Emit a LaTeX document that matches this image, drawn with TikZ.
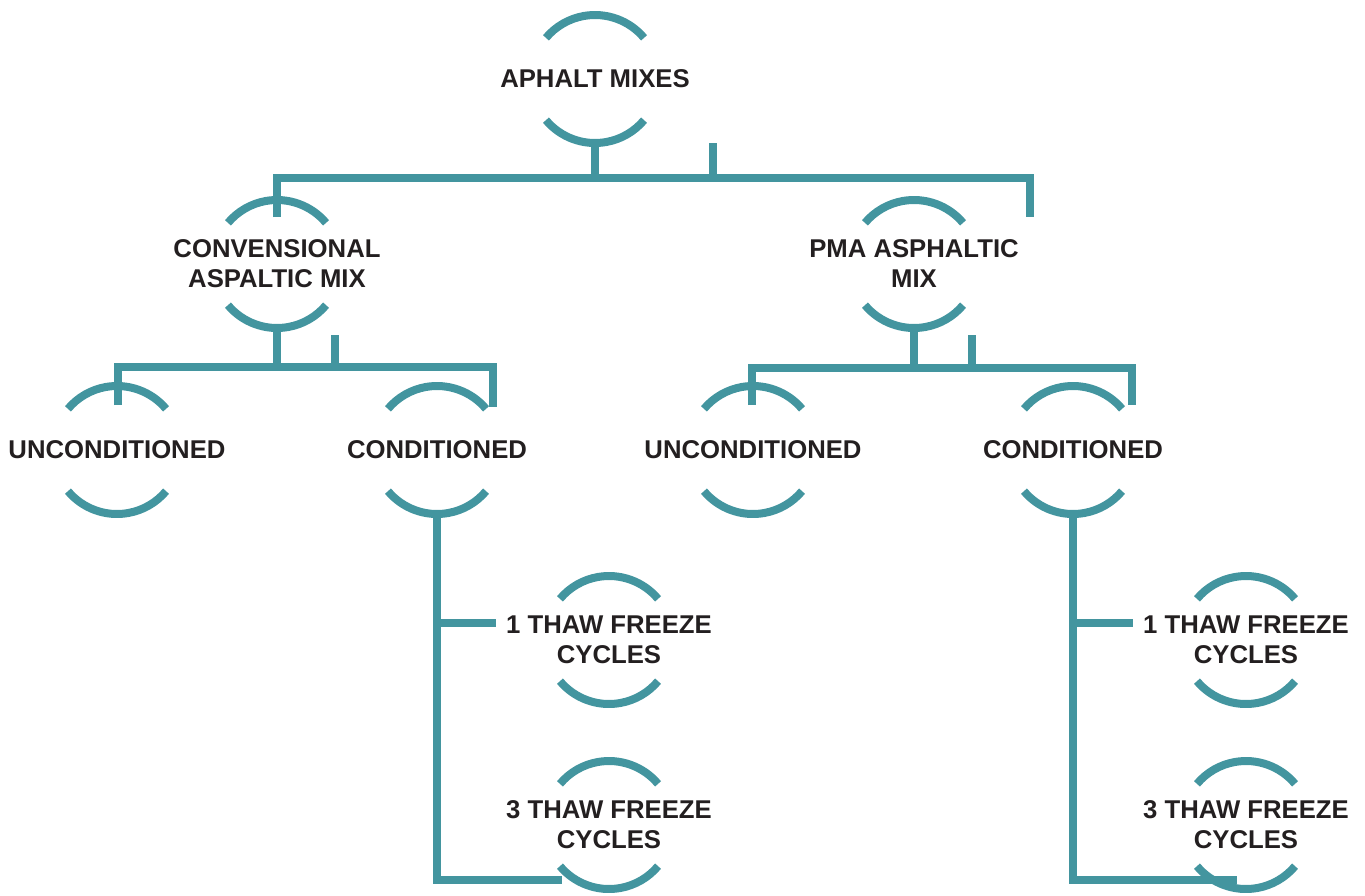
\documentclass[tikz,border=0pt]{standalone}
\usepackage{fontspec}
\setmainfont{Liberation Sans}
\definecolor{ringteal}{RGB}{67,149,159}
\definecolor{txtdark}{RGB}{35,31,32}
\begin{document}
\begin{tikzpicture}[x=1pt,y=-1pt,
  ring/.style={circle, minimum size=136pt, inner sep=0pt},
  txt/.style={font=\fontsize{25.7}{30}\selectfont\bfseries, text=txtdark, align=center, inner sep=0pt},
  arcline/.style={draw=ringteal, line width=8pt},
  conn/.style={draw=ringteal, line width=8pt, line join=miter}]
\useasboundingbox (0,0) rectangle (1365,895);

% nodes
\node[ring, label={[txt]center:APHALT MIXES}] (top) at (595,79) {};
\node[ring, label={[txt]center:{CONVENSIONAL\\ASPALTIC MIX}}] (conv) at (277,264) {};
\node[ring, label={[txt]center:{PMA ASPHALTIC\\MIX}}] (pma) at (914,264) {};
\node[ring, label={[txt]center:UNCONDITIONED}] (u1) at (117,450) {};
\node[ring, label={[txt]center:CONDITIONED}] (c1) at (437,450) {};
\node[ring, label={[txt]center:UNCONDITIONED}] (u2) at (753,450) {};
\node[ring, label={[txt]center:CONDITIONED}] (c2) at (1073,450) {};
\node[ring, label={[txt]center:{1 THAW FREEZE\\CYCLES}}] (t1a) at (609,640) {};
\node[ring, label={[txt]center:{3 THAW FREEZE\\CYCLES}}] (t1b) at (609,825) {};
\node[ring, label={[txt]center:{1 THAW FREEZE\\CYCLES}}] (t2a) at (1246,640) {};
\node[ring, label={[txt]center:{3 THAW FREEZE\\CYCLES}}] (t2b) at (1246,825) {};

% ring arcs
\foreach \n in {top,conv,pma,u1,c1,u2,c2,t1a,t1b,t2a,t2b}{
  \draw[arcline] (\n.center) ++(40:64pt) arc[start angle=40,end angle=140,radius=64pt];
  \draw[arcline] (\n.center) ++(220:64pt) arc[start angle=220,end angle=320,radius=64pt];
}

% level 1 bus
\coordinate (bus1) at (0,178);
\coordinate (b1l) at (277,217);
\coordinate (b1r) at (1030,217);
\coordinate (s1) at (713,143);
\draw[conn] (b1l) -- (b1l |- bus1) -- (b1r |- bus1) -- (b1r);
\draw[conn] (top.south) -- (top.south |- bus1);
\draw[conn] (s1) -- (s1 |- bus1);

% level 2 left bus
\coordinate (bus2) at (0,367);
\coordinate (b2l) at (118,405);
\coordinate (b2r) at (493,407);
\coordinate (s2) at (335,335);
\draw[conn] (b2l) -- (b2l |- bus2) -- (b2r |- bus2) -- (b2r);
\draw[conn] (conv.south) -- (conv.south |- bus2);
\draw[conn] (s2) -- (s2 |- bus2);

% level 2 right bus
\coordinate (bus3) at (0,368);
\coordinate (b3l) at (752,405);
\coordinate (b3r) at (1132,405);
\coordinate (s3) at (972,335);
\draw[conn] (b3l) -- (b3l |- bus3) -- (b3r |- bus3) -- (b3r);
\draw[conn] (pma.south) -- (pma.south |- bus3);
\draw[conn] (s3) -- (s3 |- bus3);

% conditioned branches
\coordinate (e1) at (562,880);
\coordinate (h1) at (496,623);
\draw[conn] (c1.south) -- (c1.south |- e1) -- (e1);
\draw[conn] (c1.south |- h1) -- (h1);

\coordinate (e2) at (1237,880);
\coordinate (h2) at (1133,623);
\draw[conn] (c2.south) -- (c2.south |- e2) -- (e2);
\draw[conn] (c2.south |- h2) -- (h2);
\end{tikzpicture}
\end{document}
